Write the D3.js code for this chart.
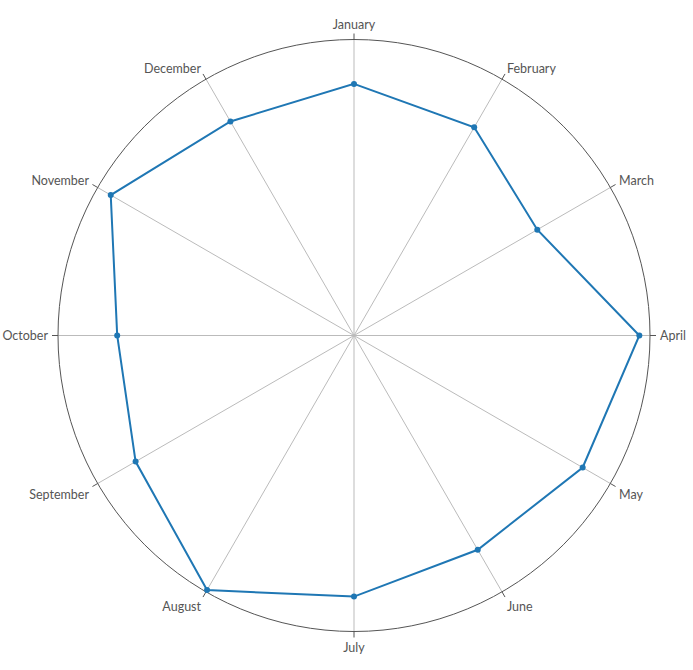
<!DOCTYPE html>
<html>
<head>
<meta charset="utf-8">
<script src="https://cdn.jsdelivr.net/npm/d3@7"></script>
<style>
    body { margin: 0; background: #fff; }
    .label { font-family: Lato, "Open Sans", sans-serif; font-size: 12.5px; fill: #555; }
</style>
</head>
<body>
<div id="chart"></div>
<script>
// months around the circle
let months = ["January", "February", "March", "April", "May", "June",
    "July", "August", "September", "October", "November", "December"];

// values (0 - 100)
let values = [85, 81.2, 71.5, 96.4, 89.2, 83.6, 88.2, 99.3, 85.2, 80, 94.9, 83.5];

let data = months.map((m, i) => ({month: m, value: values[i]}));

let width = 693, height = 670;
let cx = 354, cy = 335.5, radius = 296;

let svg = d3.select("#chart").append("svg")
    .attr("width", width)
    .attr("height", height)
    .append("g")
    .attr("transform", `translate(${cx}, ${cy})`);

// angle scale: January at the top, going clockwise
let angle = d3.scalePoint()
    .domain(months)
    .range([0, 2 * Math.PI * (11 / 12)]);

let r = d3.scaleLinear()
    .domain([0, 100])
    .range([0, radius]);

// spokes
svg.append("g")
    .selectAll("line")
    .data(months)
    .enter()
    .append("line")
    .attr("x1", 0)
    .attr("y1", 0)
    .attr("x2", d => radius * Math.sin(angle(d)))
    .attr("y2", d => -radius * Math.cos(angle(d)))
    .attr("stroke", "#bbb")
    .attr("stroke-width", 1);

// outer circle
svg.append("circle")
    .attr("r", radius)
    .attr("fill", "none")
    .attr("stroke", "#555")
    .attr("stroke-width", 1);

// ticks
svg.append("g")
    .selectAll("line")
    .data(months)
    .enter()
    .append("line")
    .attr("x1", d => radius * Math.sin(angle(d)))
    .attr("y1", d => -radius * Math.cos(angle(d)))
    .attr("x2", d => (radius + 6) * Math.sin(angle(d)))
    .attr("y2", d => -(radius + 6) * Math.cos(angle(d)))
    .attr("stroke", "#555")
    .attr("stroke-width", 1);

// labels
svg.append("g")
    .selectAll("text")
    .data(months)
    .enter()
    .append("text")
    .attr("class", "label")
    .attr("x", d => (radius + 10) * Math.sin(angle(d)))
    .attr("y", d => {
        let c = Math.cos(angle(d));
        let y = -(radius + 10) * c;
        if (c > 0.99) y -= 5;          // top label sits above the tick
        else if (c > 0.01) y -= 2;
        else if (c < -0.01) y += 6;    // lower labels hang below
        return y;
    })
    .attr("dy", "0.35em")
    .attr("text-anchor", d => {
        let s = Math.sin(angle(d));
        if (Math.abs(s) < 0.01) return "middle";
        return s > 0 ? "start" : "end";
    })
    .text(d => d);

// line
let line = d3.lineRadial()
    .angle(d => angle(d.month))
    .radius(d => r(d.value))
    .curve(d3.curveLinearClosed);

svg.append("path")
    .datum(data)
    .attr("d", line)
    .attr("fill", "none")
    .attr("stroke", "#1f77b4")
    .attr("stroke-width", 2);

// dots
svg.append("g")
    .selectAll("circle")
    .data(data)
    .enter()
    .append("circle")
    .attr("cx", d => r(d.value) * Math.sin(angle(d.month)))
    .attr("cy", d => -r(d.value) * Math.cos(angle(d.month)))
    .attr("r", 3)
    .attr("fill", "#1f77b4");
</script>
</body>
</html>
